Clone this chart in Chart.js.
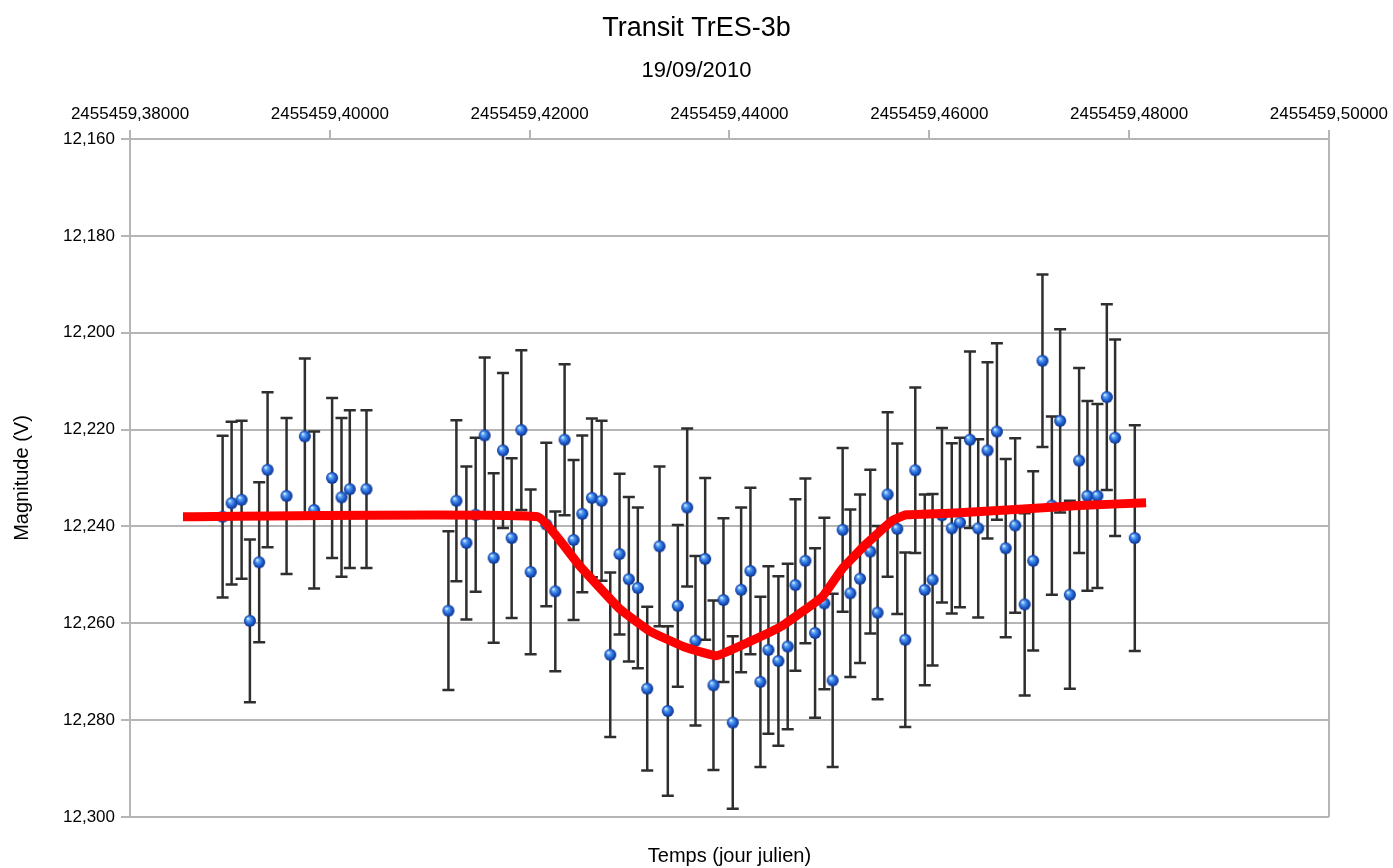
<!DOCTYPE html>
<html>
<head>
<meta charset="utf-8">
<script src="https://cdn.jsdelivr.net/npm/chart.js@4/dist/chart.umd.min.js"></script>
<style>
html,body{margin:0;padding:0;background:#fff;}
#wrap{width:1393px;height:868px;}
</style>
</head>
<body>
<div id="wrap"><canvas id="c" width="1393" height="868"></canvas></div>
<script>
// Julian date base; x values are offsets from it
const jdBase = 2455459;
const timeOffsets = [0.38927,0.39017,0.39117,0.39200,0.39293,0.39377,0.39567,0.39750,0.39843,0.40023,0.40117,0.40200,0.40367,
0.41187,0.41267,0.41367,0.41460,0.41550,0.41640,0.41733,0.41820,0.41917,0.42010,
0.42167,0.42257,0.42350,0.42440,0.42527,0.42623,0.42720,0.42807,0.42900,0.42993,
0.43083,0.43177,0.43300,0.43383,0.43483,0.43577,0.43660,0.43757,0.43840,0.43940,
0.44033,0.44117,0.44210,0.44310,0.44390,0.44490,0.44583,0.44660,0.44760,0.44857,
0.44950,0.45033,0.45133,0.45210,0.45307,0.45410,0.45483,0.45583,0.45680,0.45760,
0.45860,0.45955,0.46033,0.46127,0.46225,0.46307,0.46407,0.46490,0.46583,0.46677,
0.46765,0.46860,0.46955,0.47040,0.47133,0.47227,0.47310,0.47407,0.47500,0.47583,
0.47683,0.47777,0.47860,0.48057];
const magnitudes = [12.2380,12.2352,12.2345,12.2595,12.2474,12.2283,12.2337,12.2214,12.2366,12.2300,12.2340,12.2323,12.2323,
12.2574,12.2347,12.2434,12.2376,12.2212,12.2465,12.2243,12.2424,12.2201,12.2494,
12.2396,12.2534,12.2221,12.2428,12.2374,12.2341,12.2347,12.2665,12.2457,12.2509,
12.2527,12.2735,12.2441,12.2781,12.2564,12.2361,12.2636,12.2467,12.2728,12.2552,
12.2805,12.2531,12.2492,12.2721,12.2655,12.2678,12.2648,12.2521,12.2471,12.2620,
12.2559,12.2718,12.2407,12.2538,12.2508,12.2452,12.2578,12.2334,12.2405,12.2634,
12.2284,12.2531,12.2510,12.2377,12.2404,12.2392,12.2221,12.2404,12.2243,12.2204,
12.2445,12.2398,12.2561,12.2471,12.2058,12.2357,12.2182,12.2541,12.2264,12.2337,
12.2337,12.2133,12.2217,12.2424];
const magErrors = [0.0167,0.0168,0.0163,0.0168,0.0165,0.0160,0.0161,0.0161,0.0162,0.0165,0.0164,0.0163,0.0163,
0.0164,0.0166,0.0158,0.0159,0.0161,0.0175,0.0160,0.0165,0.0165,0.0170,
0.0169,0.0165,0.0156,0.0165,0.0162,0.0164,0.0165,0.0170,0.0166,0.0170,
0.0166,0.0169,0.0165,0.0175,0.0167,0.0163,0.0175,0.0167,0.0175,0.0169,
0.0178,0.0170,0.0172,0.0176,0.0173,0.0175,0.0171,0.0177,0.0170,0.0175,
0.0177,0.0179,0.0169,0.0173,0.0174,0.0169,0.0179,0.0170,0.0176,0.0180,
0.0171,0.0197,0.0177,0.0180,0.0176,0.0175,0.0182,0.0184,0.0182,0.0182,
0.0184,0.0180,0.0188,0.0185,0.0178,0.0184,0.0189,0.0194,0.0191,0.0196,
0.0190,0.0192,0.0203,0.0233];
const modelTime = [0.38530,0.42080,0.42500,0.42900,0.43200,0.43550,0.43870,0.44200,0.44530,0.44930,0.45130,0.45370,0.45630,0.45770,0.46300,0.47500,0.48170];
const modelMag = [12.2380,12.2380,12.2481,12.2570,12.2616,12.2649,12.2667,12.2638,12.2605,12.2545,12.2487,12.2436,12.2388,12.2376,12.2372,12.2357,12.2351];
const xTicks = [0.38,0.40,0.42,0.44,0.46,0.48,0.50];
const yTicks = [12.16,12.18,12.20,12.22,12.24,12.26,12.28,12.30];

const titleText = 'Transit TrES-3b';
const subtitleText = '19/09/2010';
const xTitle = 'Temps (jour julien)';
const yTitle = 'Magnitude (V)';

// sphere marker
function makeSphere(r){
  const c = document.createElement('canvas');
  c.width = r*2+2; c.height = r*2+2;
  const g = c.getContext('2d');
  const cx = r+1, cy = r+1;
  const grad = g.createRadialGradient(cx-r*0.35, cy-r*0.4, 0.5, cx, cy, r);
  grad.addColorStop(0, '#d8ecff');
  grad.addColorStop(0.25, '#5aa2f5');
  grad.addColorStop(0.65, '#1f5fd0');
  grad.addColorStop(1, '#0b2f85');
  g.fillStyle = grad;
  g.beginPath(); g.arc(cx, cy, r, 0, Math.PI*2); g.fill();
  return c;
}
const sphere = makeSphere(6);

const GRID = '#b5b5b5';
const FONT = "'Liberation Sans', Arial, sans-serif";
Chart.defaults.font.family = FONT;
Chart.defaults.color = '#000';

const errorBars = {
  id: 'errorBars',
  beforeDatasetsDraw(chart){
    const {ctx, chartArea, scales:{x, y}} = chart;
    ctx.save();
    ctx.beginPath();
    ctx.rect(chartArea.left, chartArea.top, chartArea.right-chartArea.left, chartArea.bottom-chartArea.top);
    ctx.clip();
    ctx.strokeStyle = '#2e2e2e';
    ctx.lineWidth = 2.5;
    ctx.lineCap = 'butt';
    for (let i = 0; i < timeOffsets.length; i++){
      const px = x.getPixelForValue(timeOffsets[i]);
      const y1 = y.getPixelForValue(magnitudes[i]-magErrors[i]);
      const y2 = y.getPixelForValue(magnitudes[i]+magErrors[i]);
      ctx.beginPath();
      ctx.moveTo(px, y1); ctx.lineTo(px, y2);
      ctx.moveTo(px-6, y1); ctx.lineTo(px+6, y1);
      ctx.moveTo(px-6, y2); ctx.lineTo(px+6, y2);
      ctx.stroke();
    }
    ctx.restore();
  }
};

new Chart(document.getElementById('c'), {
  type: 'scatter',
  data: {
    datasets: [
      {
        type: 'line',
        label: 'Modèle',
        data: modelTime.map((t,i)=>({x:t, y:modelMag[i]})),
        borderColor: '#ff0000',
        borderWidth: 9,
        pointRadius: 0,
        showLine: true,
        tension: 0.1,
        fill: false,
        borderJoinStyle: 'round'
      },
      {
        label: 'Mesures',
        data: timeOffsets.map((t,i)=>({x:t, y:magnitudes[i]})),
        pointStyle: sphere,
        pointRadius: 6,
        showLine: false
      }
    ]
  },
  options: {
    responsive: false,
    animation: false,
    events: [],
    layout: { padding: 0 },
    plugins: {
      legend: { display: false },
      tooltip: { enabled: false },
      title: {
        display: true, text: titleText,
        font: { size: 27, weight: 'normal', family: FONT },
        color: '#000',
        padding: { top: 12, bottom: 8 }
      },
      subtitle: {
        display: true, text: subtitleText,
        font: { size: 22, weight: 'normal', family: FONT },
        color: '#000',
        padding: { top: 5, bottom: 4 }
      }
    },
    scales: {
      x: {
        type: 'linear', position: 'top',
        min: 0.38, max: 0.50,
        afterBuildTicks(s){ s.ticks = xTicks.map(v=>({value:v})); },
        afterFit(s){ s.height = 139 - 87.8; },
        ticks: {
          font: { size: 17 }, color: '#000', padding: 5, maxRotation: 0,
          callback: v => String(jdBase) + ',' + v.toFixed(5).split('.')[1]
        },
        grid: {
          drawOnChartArea: true,
          color: c => (c.tick && Math.abs(c.tick.value-0.50) < 1e-9) ? GRID : 'rgba(0,0,0,0)',
          tickColor: GRID, tickLength: 9, lineWidth: 2
        },
        border: { display: true, color: GRID, width: 2 }
      },
      x2: {
        type: 'linear', position: 'bottom',
        min: 0, max: 1,
        afterFit(s){ s.height = 868 - 817; },
        ticks: { display: false },
        grid: { display: false, drawTicks: false },
        border: { display: false },
        title: { display: true, text: xTitle, font: { size: 20 }, color: '#000', padding: { top: 0, bottom: 0 } }
      },
      y: {
        type: 'linear', position: 'left', reverse: true,
        min: 12.16, max: 12.30,
        afterBuildTicks(s){ s.ticks = yTicks.map(v=>({value:v})); },
        afterFit(s){ s.width = 130; },
        ticks: {
          font: { size: 17 }, color: '#000', padding: 6,
          callback: v => v.toFixed(3).replace('.', ',')
        },
        grid: { color: GRID, tickColor: GRID, tickLength: 9, lineWidth: 2 },
        border: { display: true, color: GRID, width: 2 },
        title: { display: true, text: yTitle, font: { size: 20 }, color: '#000', padding: { top: 10, bottom: 0 } }
      },
      y2: {
        type: 'linear', position: 'right',
        min: 0, max: 1,
        afterFit(s){ s.width = 1393 - 1330; },
        ticks: { display: false },
        grid: { display: false, drawTicks: false },
        border: { display: false }
      }
    }
  },
  plugins: [errorBars]
});
</script>
</body>
</html>
